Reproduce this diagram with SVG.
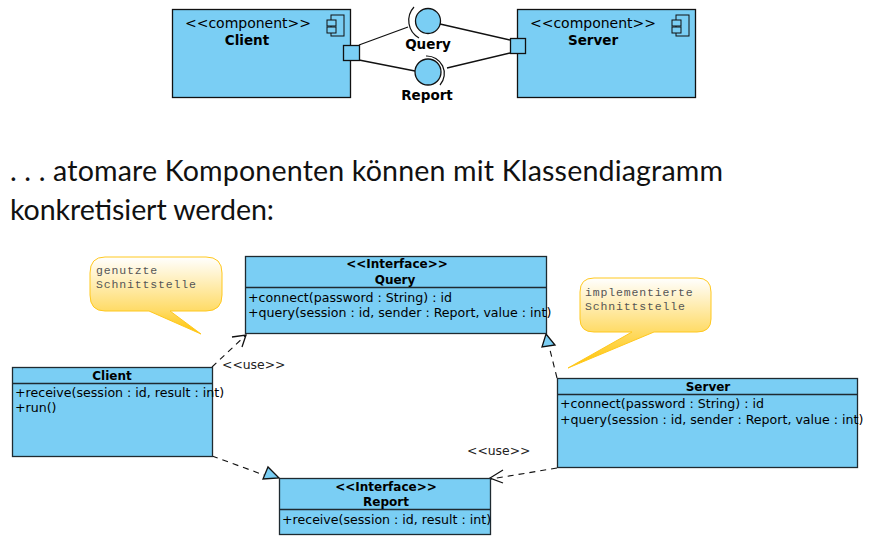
<svg xmlns="http://www.w3.org/2000/svg" width="870" height="543" viewBox="0 0 870 543">
<defs>
<linearGradient id="note2" gradientUnits="userSpaceOnUse" x1="0" y1="278" x2="0" y2="368"><stop offset="0" stop-color="#ffffff"/><stop offset="0.6" stop-color="#ffdb66"/><stop offset="1" stop-color="#ffc400"/></linearGradient>
<linearGradient id="note1" gradientUnits="userSpaceOnUse" x1="0" y1="257" x2="0" y2="334"><stop offset="0" stop-color="#ffffff"/><stop offset="0.7" stop-color="#ffdb66"/><stop offset="1" stop-color="#ffc400"/></linearGradient>
</defs>
<style>
.box{fill:#7acef4;stroke:#111;stroke-width:1.3}
.cls{fill:#7acef4;stroke:#1f2a30;stroke-width:1.3}
.ln{fill:none;stroke:#111;stroke-width:1.3}
.dash{fill:none;stroke:#111;stroke-width:1.1;stroke-dasharray:6 5}
.arc{fill:none;stroke:#111;stroke-width:1.2}
.ic{fill:#7acef4;stroke:#111;stroke-width:1}
text{font-family:"DejaVu Sans",sans-serif;fill:#000}
.st{font-size:14px}
.b{font-weight:bold;text-anchor:middle}
.b13{font-size:13.5px}
.b11{font-size:12px}
.m{font-size:12.6px}
.u{font-size:12.4px;fill:#222}
.h{font-size:28.6px;font-family:Lato,"DejaVu Sans",sans-serif;fill:#111}
.n{font-family:"Liberation Mono",monospace;font-size:11.5px;fill:#555;letter-spacing:.85px}
</style>
<g id="connectors">
<path class="ln" d="M359 45L408 27M359 60L415 71M440 24L510 40M447 68L510 53"/>
<path class="dash" d="M212 367L246 335"/>
<path class="ln" d="M232 337L246 335L242 347" stroke-width="1.1"/>
<path class="dash" d="M557 378L549 346"/>
<path class="dash" d="M212 456L264 475"/>
<path class="dash" d="M557 468L491 479"/>
<path class="ln" d="M503 470L490 478L503 483"/>
<path class="box" d="M546 334L555 345L542 347Z" stroke-width="1"/>
<path class="box" d="M279 478L268 467L263 479Z" stroke-width="1"/>
</g>
<g id="client-component">
<rect class="box" x="172.500" y="9.500" width="178" height="88"/>
<text class="st" x="248" y="28" text-anchor="middle">&lt;&lt;component&gt;&gt;</text>
<text class="b b13" x="247" y="45">Client</text>
<rect class="ic" x="331" y="15" width="13" height="21"/>
<rect class="ic" x="327" y="20" width="9" height="6"/>
<rect class="ic" x="327" y="27" width="9" height="6"/>
<rect class="box" x="343.500" y="45.500" width="16" height="15"/>
</g>
<g id="server-component">
<rect class="box" x="517.500" y="9.500" width="178" height="88"/>
<text class="st" x="593" y="28" text-anchor="middle">&lt;&lt;component&gt;&gt;</text>
<text class="b b13" x="593" y="45">Server</text>
<rect class="ic" x="676" y="15" width="13" height="21"/>
<rect class="ic" x="672" y="20" width="9" height="6"/>
<rect class="ic" x="672" y="27" width="9" height="6"/>
<rect class="box" x="510.500" y="38.500" width="15" height="15"/>
</g>
<g id="query-iface">
<circle class="box" cx="428" cy="21" r="12.500"/>
<path class="arc" d="M414 7A20 20 0 0 0 419 38"/>
<text class="b b13" x="428" y="49">Query</text>
</g>
<g id="report-iface">
<circle class="box" cx="428" cy="72" r="13"/>
<path class="arc" d="M426 56A17.500 17.500 0 0 1 440 85"/>
<text class="b b13" x="427" y="100">Report</text>
</g>
<g id="heading">
<text class="h" x="10" y="181" textLength="713">. . . atomare Komponenten können mit Klassendiagramm</text>
<text class="h" x="10" y="220" textLength="264">konkretisiert werden:</text>
</g>
<g id="note-client">
<path d="M105 257H206Q222 257 222 273V295Q222 311 206 311H170L201 334L149 311H105Q90 311 90 295V273Q90 257 105 257Z" fill="url(#note1)" stroke="#ffc81e" stroke-width="1"/>
<text class="n" x="96" y="274">genutzte</text>
<text class="n" x="96" y="288">Schnittstelle</text>
</g>
<g id="note-server">
<path d="M594 278H697Q711 278 711 292V319Q711 332 697 332H654L568 368L632 332H594Q580 332 580 319V292Q580 278 594 278Z" fill="url(#note2)" stroke="#ffc81e" stroke-width="1"/>
<text class="n" x="585" y="296">implementierte</text>
<text class="n" x="585" y="310">Schnittstelle</text>
</g>
<g id="query-class">
<rect class="cls" x="245.500" y="256.500" width="301" height="77"/>
<path class="cls" d="M245.500 287.500H546.500"/>
<text class="b b11" x="397" y="268">&lt;&lt;Interface&gt;&gt;</text>
<text class="b b11" x="395" y="284">Query</text>
<text class="m" x="248" y="302">+connect(password : String) : id</text>
<text class="m" x="248" y="317">+query(session : id, sender : Report, value : int)</text>
</g>
<g id="client-class">
<rect class="cls" x="12.500" y="367.500" width="200" height="89"/>
<path class="cls" d="M12.500 383.500H212.500"/>
<text class="b b11" x="112" y="380">Client</text>
<text class="m" x="15" y="397">+receive(session : id, result : int)</text>
<text class="m" x="15" y="412">+run()</text>
</g>
<g id="server-class">
<rect class="cls" x="557.500" y="378.500" width="300" height="89"/>
<path class="cls" d="M557.500 394.500H857.500"/>
<text class="b b11" x="708" y="391">Server</text>
<text class="m" x="560" y="408">+connect(password : String) : id</text>
<text class="m" x="560" y="424">+query(session : id, sender : Report, value : int)</text>
</g>
<g id="report-class">
<rect class="cls" x="279.500" y="478.500" width="211" height="56"/>
<path class="cls" d="M279.500 509.500H490.500"/>
<text class="b b11" x="386" y="491">&lt;&lt;Interface&gt;&gt;</text>
<text class="b b11" x="386" y="506">Report</text>
<text class="m" x="282" y="524">+receive(session : id, result : int)</text>
</g>
<text class="u" x="222" y="369">&lt;&lt;use&gt;&gt;</text>
<text class="u" x="467" y="455">&lt;&lt;use&gt;&gt;</text>
</svg>
